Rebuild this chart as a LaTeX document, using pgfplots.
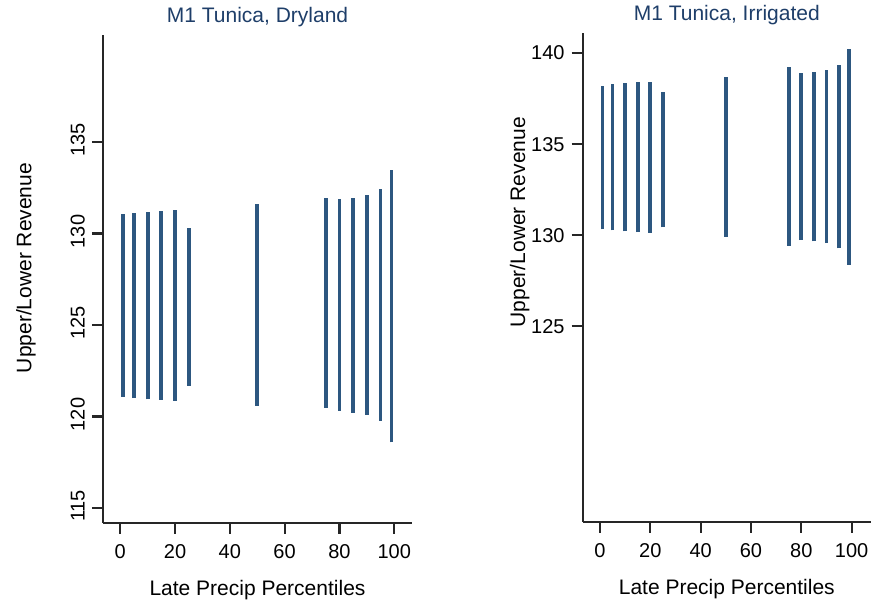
\documentclass[border=0pt]{standalone}
\usepackage{pgfplots}
\pgfplotsset{compat=1.18}
\usepackage{pgfplotstable}
\usepackage{fontspec}
\setmainfont{Liberation Sans}

\definecolor{barc}{RGB}{45,87,128}
\definecolor{titc}{RGB}{30,62,105}

% x, lower and upper revenue
\pgfplotstableread{
x lo hi
1 121.09 131.04
5 121.00 131.13
10 120.94 131.17
15 120.91 131.24
20 120.87 131.28
25 121.67 130.29
50 120.58 131.60
75 120.49 131.95
80 120.32 131.88
85 120.21 131.95
90 120.10 132.08
95 119.76 132.42
99 118.59 133.46
}\dry

\pgfplotstableread{
x lo hi
1 130.32 138.21
5 130.27 138.30
10 130.21 138.36
15 130.17 138.39
20 130.14 138.41
25 130.43 137.86
50 129.92 138.69
75 129.42 139.26
80 129.73 138.91
85 129.66 138.98
90 129.57 139.07
95 129.28 139.37
99 128.38 140.23
}\irr

\pgfplotsset{
  panel/.style={
    scale only axis,
    axis lines*=left,
    axis line style={line width=1.1pt, black!85},
    tick style={line width=1.1pt, black!85},
    tick align=outside,
    major tick length=5.5pt,
    xtick={0,20,...,100},
    /pgf/number format/assume math mode=true,
    ticklabel style={font=\fontsize{10}{12}\selectfont},
    xticklabel style={yshift=-1.5pt},
    label style={font=\fontsize{10.5}{12}\selectfont},
    title style={font=\fontsize{10.5}{12}\selectfont, text=titc,
      at={(axis description cs:0.5,1)}, anchor=center, yshift=3pt},
    xlabel={Late Precip Percentiles},
    ylabel={Upper/Lower Revenue},
    xlabel style={at={(axis description cs:0.5,-0.137)}, anchor=center},
    clip=false,
  },
  rng/.style={draw=none, mark=none,
    error bars/.cd, y dir=plus, y explicit, error mark=none,
    error bar style={line width=1.9pt, color=barc}},
}

\begin{document}
\begin{tikzpicture}
\useasboundingbox (0,0) rectangle (437.5pt,-302pt);
\begin{axis}[panel,
  at={(51.5pt,-261.5pt)}, anchor=south west,
  width=154.5pt, height=244pt,
  xmin=-6.3, xmax=106.5, ymin=114.18, ymax=140.85,
  ytick={115,120,...,135},
  yticklabel style={rotate=90, anchor=south, xshift=1pt},
  ylabel style={at={(axis description cs:-0.249,0.5225)}, anchor=center},
  title={M1 Tunica, Dryland}]
\addplot[rng] table[x=x, y=lo, y error expr=\thisrow{hi}-\thisrow{lo}] {\dry};
\end{axis}
\begin{axis}[panel,
  at={(291.3pt,-261pt)}, anchor=south west,
  width=144.2pt, height=244.5pt,
  xmin=-6.9, xmax=107.7, ymin=114.26, ymax=141.1,
  ytick={125,130,...,140},
  ylabel style={at={(axis description cs:-0.218,0.613)}, anchor=center},
  title={M1 Tunica, Irrigated}]
\addplot[rng] table[x=x, y=lo, y error expr=\thisrow{hi}-\thisrow{lo}] {\irr};
\end{axis}
\end{tikzpicture}
\end{document}
